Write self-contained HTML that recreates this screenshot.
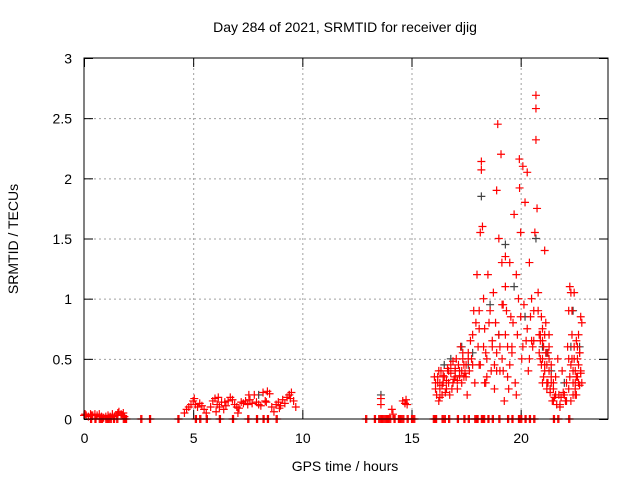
<!DOCTYPE html>
<html><head><meta charset="utf-8"><style>
body{margin:0;background:#fff;}
svg{display:block;font-family:"Liberation Sans",sans-serif;}
</style></head><body>
<svg id="chart" width="640" height="480" viewBox="0 0 640 480" xmlns="http://www.w3.org/2000/svg">
<rect width="640" height="480" fill="#fff"/>
<text x="345" y="32" font-size="14" text-anchor="middle">Day 284 of 2021, SRMTID for receiver djig</text>
<text x="345" y="471" font-size="14" text-anchor="middle">GPS time / hours</text>
<text transform="translate(18,239) rotate(-90)" font-size="14" text-anchor="middle">SRMTID / TECUs</text>
<g id="grid"></g>
<g id="ticks"></g>
<g id="marks"></g>
<rect x="84" y="58" width="524" height="361" fill="none" stroke="#000" stroke-width="1"/>
</svg>
<script>
const xTicks=[0,5,10,15,20];
const yTicks=[0,0.5,1,1.5,2,2.5,3];
const yTickLabels=["0","0.5","1","1.5","2","2.5","3"];
// hours and SRMTID values (TECU)
const hoursA=[0.0,0.05,0.1,0.2,0.3,0.35,0.4,0.5,0.6,0.7,0.8,0.9,1.0,1.1,1.2,1.3,1.4,1.5,1.55,1.6,1.7,1.75,1.8,1.85];
const valsA=[0.03,0.04,0.03,0.02,0.04,0.03,0.03,0.04,0.03,0.04,0.02,0.01,0.02,0.03,0.02,0.04,0.02,0.03,0.05,0.06,0.04,0.03,0.05,0.02];
const hoursB=[4.6,4.7,4.8,4.9,5.0,5.05,5.1,5.2,5.3,5.4,5.5,5.6,5.8,5.9,6.0,6.1,6.2,6.3,6.4,6.5,6.6,6.7,6.8,6.9,7.0,7.1,7.2,7.3,7.4,7.5,7.6,7.7,7.8,7.9,8.0,8.1,8.2,8.3,8.4,8.5,8.6,8.7,8.8,8.9,9.0,9.1,9.2,9.3,9.4,9.5,9.6,9.7,6.05,6.15,6.45,7.05,7.55,8.35,8.95,9.45];
const valsB=[0.05,0.08,0.1,0.12,0.15,0.17,0.12,0.1,0.13,0.11,0.08,0.05,0.1,0.15,0.17,0.12,0.1,0.14,0.08,0.11,0.15,0.18,0.16,0.12,0.1,0.09,0.14,0.13,0.15,0.12,0.16,0.13,0.2,0.14,0.12,0.11,0.22,0.15,0.23,0.21,0.1,0.06,0.12,0.14,0.11,0.16,0.13,0.18,0.2,0.22,0.15,0.1,0.06,0.18,0.14,0.05,0.2,0.14,0.09,0.17];
const hoursC=[13.6,13.6,14.1,14.15,14.6,14.7,14.8,14.75];
const valsC=[0.17,0.12,0.08,0.04,0.15,0.13,0.12,0.16];
const hoursD=[16.1,16.15,16.2,16.25,16.3,16.35,16.4,16.45,16.5,16.6,16.7,16.75,16.8,16.9,17.0,17.05,17.1,17.2,17.25,17.3,17.35,17.4,17.5,17.55,17.6,17.7,17.8,17.85,17.9,17.95,18.0,18.05,18.1,18.15,18.2,18.2,18.25,18.3,18.35,18.4,18.45,18.5,18.6,18.65,18.7,18.75,18.8,18.85,18.9,18.95,19.0,19.05,19.1,19.14,19.15,19.2,19.25,19.3,19.35,19.4,19.45,19.5,19.55,19.6,19.7,19.75,19.8,19.85,19.9,19.94,19.95,20.0,20.05,20.1,20.15,20.2,20.25,20.3,20.35,20.4,20.45,20.5,20.55,20.6,20.65,20.7,20.7,20.7,20.75,20.8,20.85,20.9,20.95,21.0,21.05,21.1,21.15,21.2,21.25,21.3,21.35,21.4,21.5,21.6,21.7,21.75,21.8,21.9,22.0,22.05,22.1,22.15,22.2,22.25,22.3,22.35,22.4,22.45,22.5,22.55,22.6,22.65,22.7,22.75,22.8,16.3,16.6,17.0,17.4,18.4,18.9,19.3,20.9,21.1,21.3,22.2,22.5,18.1,19.8,20.6,21.0];
const valsD=[0.3,0.2,0.35,0.15,0.25,0.4,0.2,0.3,0.35,0.25,0.4,0.2,0.45,0.3,0.35,0.5,0.25,0.4,0.6,0.3,0.55,0.45,0.35,0.2,0.5,0.65,0.45,0.9,0.3,0.8,1.2,0.6,0.9,1.55,2.14,2.07,1.6,1.0,0.75,0.55,0.35,1.2,0.9,0.4,0.65,1.05,0.25,0.8,1.9,2.45,1.5,0.6,2.2,1.3,0.95,0.4,0.15,1.35,0.9,0.6,0.25,1.3,0.85,0.55,1.7,0.3,1.2,0.7,1.0,2.16,1.92,1.55,0.5,2.1,0.95,1.8,0.65,2.05,0.4,1.3,0.85,1.0,0.6,0.9,1.55,2.69,2.58,2.32,1.75,1.05,0.7,0.5,0.85,0.3,0.6,0.45,0.8,0.3,0.55,0.7,0.25,0.45,0.15,0.35,0.5,0.2,0.1,0.4,0.2,0.15,0.3,0.6,0.9,1.1,1.05,0.7,0.4,0.5,0.2,0.35,0.6,0.3,0.55,0.4,0.8,0.3,0.25,0.4,0.35,0.3,0.4,1.1,0.7,1.4,0.6,0.5,0.3,0.45,0.2,0.65,0.75,0.55];
const hoursD2=[16.05,16.1,16.2,16.25,16.3,16.4,16.45,16.55,16.6,16.65,16.7,16.8,16.85,16.9,16.95,17.0,17.1,17.15,17.2,17.3,17.35,17.45,17.5,17.6,17.65,17.75,17.8,18.1,18.15,18.3,18.35,18.45,18.55,18.7,18.8,18.9,19.0,19.05,19.15,19.2,19.3,19.4,19.5,19.6,19.65,20.0,20.1,20.3,20.4,20.5,20.8,20.85,20.9,20.95,21.0,21.05,21.1,21.15,21.2,21.25,21.3,21.35,21.4,21.45,21.5,21.55,21.6,21.65,21.0,21.1,21.2,21.3,21.4,21.5,21.8,21.85,21.95,22.1,22.2,22.25,22.3,22.35,22.4,22.45,22.5,22.55,22.6,22.65,22.7,22.75,22.8,22.3,22.4,22.5,22.6,22.7,22.35,22.45,22.55,22.65,22.75];
const valsD2=[0.35,0.25,0.3,0.4,0.18,0.28,0.36,0.22,0.32,0.42,0.3,0.38,0.25,0.48,0.33,0.42,0.32,0.45,0.36,0.4,0.5,0.38,0.45,0.55,0.4,0.5,0.7,0.75,0.45,0.6,0.3,0.5,0.8,0.6,0.45,0.55,0.7,0.4,0.5,0.95,0.7,0.35,0.45,0.6,0.8,0.85,0.6,0.75,0.5,0.65,0.9,0.55,0.65,0.45,0.5,0.35,0.4,0.55,0.25,0.3,0.4,0.22,0.3,0.15,0.25,0.18,0.2,0.12,0.65,0.7,0.45,0.5,0.35,0.3,0.12,0.18,0.22,0.15,0.25,0.35,0.45,0.5,0.3,0.6,0.4,0.2,0.35,0.45,0.28,0.38,0.3,0.15,0.2,0.25,0.5,0.55,0.9,1.05,0.65,0.7,0.85];
const hoursZero=[0.3,0.5,0.7,0.8,1.0,1.1,1.2,1.35,1.5,1.8,1.9,2.6,3.0,4.3,5.1,5.3,5.6,6.2,6.8,7.5,7.9,8.2,8.4,8.8,12.9,13.3,13.5,13.6,13.7,13.8,13.9,14.0,14.2,14.4,14.5,14.6,14.8,15.0,15.1,16.0,16.1,16.4,16.5,16.7,17.1,17.4,17.6,17.9,18.0,18.2,18.3,18.5,18.7,19.0,19.4,19.6,19.9,20.0,20.2,20.4,20.6,21.5,21.7,22.2];
const grayHours=[16.5,17.3,17.8,18.2,18.6,19.0,19.3,19.7,20.2,20.7,21.0,21.4,22.0,22.4,22.7,13.6,8.0,9.4,16.8,17.6,21.2,22.3];
const grayVals=[0.45,0.6,0.55,1.85,0.95,0.7,1.45,1.1,0.85,1.5,0.6,0.4,0.3,0.9,0.6,0.2,0.2,0.2,0.5,0.45,0.55,0.6];

const X0=84,X1=608,Y0=419,Y1=58;
const xs=h=>X0+h*(X1-X0)/24;
const ys=v=>Y0-v*(Y0-Y1)/3;
const NS="http://www.w3.org/2000/svg";
const grid=document.getElementById('grid'),ticks=document.getElementById('ticks'),marks=document.getElementById('marks');
function ln(p,x1,y1,x2,y2,st,dash){const l=document.createElementNS(NS,'line');l.setAttribute('x1',x1);l.setAttribute('y1',y1);l.setAttribute('x2',x2);l.setAttribute('y2',y2);l.setAttribute('stroke',st);if(dash)l.setAttribute('stroke-dasharray',dash);p.appendChild(l);return l;}
function tx(x,y,s,anchor){const t=document.createElementNS(NS,'text');t.setAttribute('x',x);t.setAttribute('y',y);t.setAttribute('font-size','14');t.setAttribute('text-anchor',anchor);t.textContent=s;ticks.appendChild(t);return t;}
xTicks.forEach(v=>{const x=xs(v)+0.5;
 if(v>0){const g=ln(grid,x,Y1,x,Y0,'#a0a0a0','2,3');}
 ln(ticks,x,Y0,x,Y0-9,'#000');ln(ticks,x,Y1,x,Y1+9,'#000');
 const t=tx(x,443,String(v),'middle');
 
 });
yTicks.forEach((v,i)=>{const y=ys(v)+0.5;
 if(v>0&&v<3){const g=ln(grid,X0,y,X1,y,'#a0a0a0','2,3');}
 ln(ticks,X0,y,X0+9,y,'#000');ln(ticks,X1,y,X1-9,y,'#000');
 const t=tx(72,y+5,yTickLabels[i],'end');
 
 });
function plus(h,v,col){const x=xs(h),y=ys(v);const p=document.createElementNS(NS,'path');
 p.setAttribute('d',`M${x-4} ${y}H${x+4}M${x} ${y-4}V${y+4}`);p.setAttribute('stroke',col);p.setAttribute('stroke-width','1.2');p.setAttribute('fill','none');
 
 
 marks.appendChild(p);}
grayHours.forEach((h,i)=>plus(h,grayVals[i],'#444'));
[[hoursA,valsA],[hoursB,valsB],[hoursC,valsC],[hoursD,valsD],[hoursD2,valsD2]].forEach(([H,V])=>H.forEach((h,i)=>plus(h,V[i],'#f00')));
hoursZero.forEach(h=>{plus(h,0,'#f00');plus(h+0.05,0,'#f00');});
</script>
</body></html>
